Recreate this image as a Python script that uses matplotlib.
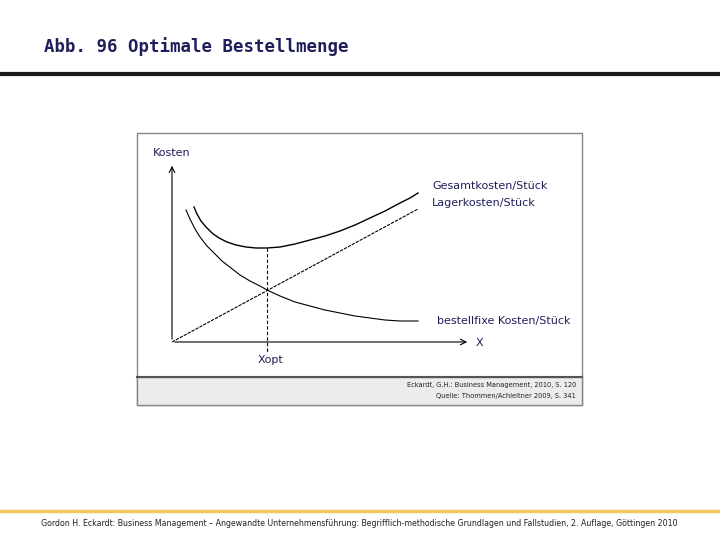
import matplotlib
matplotlib.use("Agg")
import matplotlib.pyplot as plt
from matplotlib.patches import Rectangle

# Points (pixel coordinates of the slide)
fix_x = [186, 190, 195, 200, 207, 214, 222, 231, 240, 250, 260, 267, 280, 295, 310,
         325, 340, 355, 370, 385, 400, 418]
fix_y = [210, 219, 229, 237, 246, 253, 261, 268, 275, 281, 286, 290, 296, 302, 306,
         310, 313, 316, 318, 320, 321, 321]
tot_x = [194, 197, 201, 206, 212, 219, 227, 236, 246, 256, 267, 280, 295, 310,
         325, 340, 355, 370, 385, 400, 410, 418]
tot_y = [207, 214, 221, 227, 233, 238, 242, 245, 247, 248, 248, 247, 244, 240,
         236, 231, 225, 218, 211, 203, 198, 193]
lager_x = [172, 418]
lager_y = [342, 209]
x_opt = 267

navy = "#1f1f5a"
fig = plt.figure(figsize=(7.2, 5.4), dpi=100)
ax = fig.add_axes([0, 0, 1, 1])
ax.set_xlim(0, 720)
ax.set_ylim(540, 0)
ax.axis("off")

# slide header / footer
ax.text(44, 47, "Abb. 96 Optimale Bestellmenge", fontsize=12.5, fontweight="bold",
        color=navy, va="center", family="DejaVu Sans Mono")
ax.plot([0, 720], [74, 74], color="#1a1a1a", lw=3)
ax.plot([0, 720], [511, 511], color="#f2c75c", lw=2.5)
ax.text(359, 524, "Gordon H. Eckardt: Business Management – Angewandte Unternehmensführung: "
        "Begrifflich-methodische Grundlagen und Fallstudien, 2. Auflage, Göttingen 2010",
        fontsize=5.7, color="#222222", ha="center", va="center")

# inner figure box
ax.add_patch(Rectangle((137, 133), 445, 272, facecolor="white", edgecolor="#888888", lw=1))
ax.add_patch(Rectangle((137, 377), 445, 28, facecolor="#ececec", edgecolor="#888888", lw=1))
ax.plot([137, 582], [377, 377], color="#555555", lw=1.5)
ax.text(576, 385, "Eckardt, G.H.: Business Management, 2010, S. 120", fontsize=4.8,
        ha="right", va="center", color="#222222")
ax.text(576, 396, "Quelle: Thommen/Achleitner 2009, S. 341", fontsize=4.8,
        ha="right", va="center", color="#222222")

# axes
ax.annotate("", xy=(470, 342), xytext=(172, 342),
            arrowprops=dict(arrowstyle="->", lw=0.8, color="black"))
ax.annotate("", xy=(172, 163), xytext=(172, 342),
            arrowprops=dict(arrowstyle="->", lw=0.8, color="black"))

# curves
ax.plot(lager_x, lager_y, color="black", lw=0.8, ls=(0, (3, 1)))
ax.plot(fix_x, fix_y, color="black", lw=0.8)
ax.plot(tot_x, tot_y, color="black", lw=1.0)
ax.plot([x_opt, x_opt], [248, 352], color="black", lw=0.8, ls=(0, (3, 2)))

ax.text(153, 153, "Kosten", fontsize=8, color=navy, va="center")
ax.text(432, 186, "Gesamtkosten/Stück", fontsize=8, color=navy, va="center")
ax.text(432, 203, "Lagerkosten/Stück", fontsize=8, color=navy, va="center")
ax.text(437, 321, "bestellfixe Kosten/Stück", fontsize=8, color=navy, va="center")
ax.text(476, 343, "X", fontsize=8, color=navy, va="center")
ax.text(258, 360, "Xopt", fontsize=8, color=navy, va="center")

fig.savefig("out.png", dpi=100)
